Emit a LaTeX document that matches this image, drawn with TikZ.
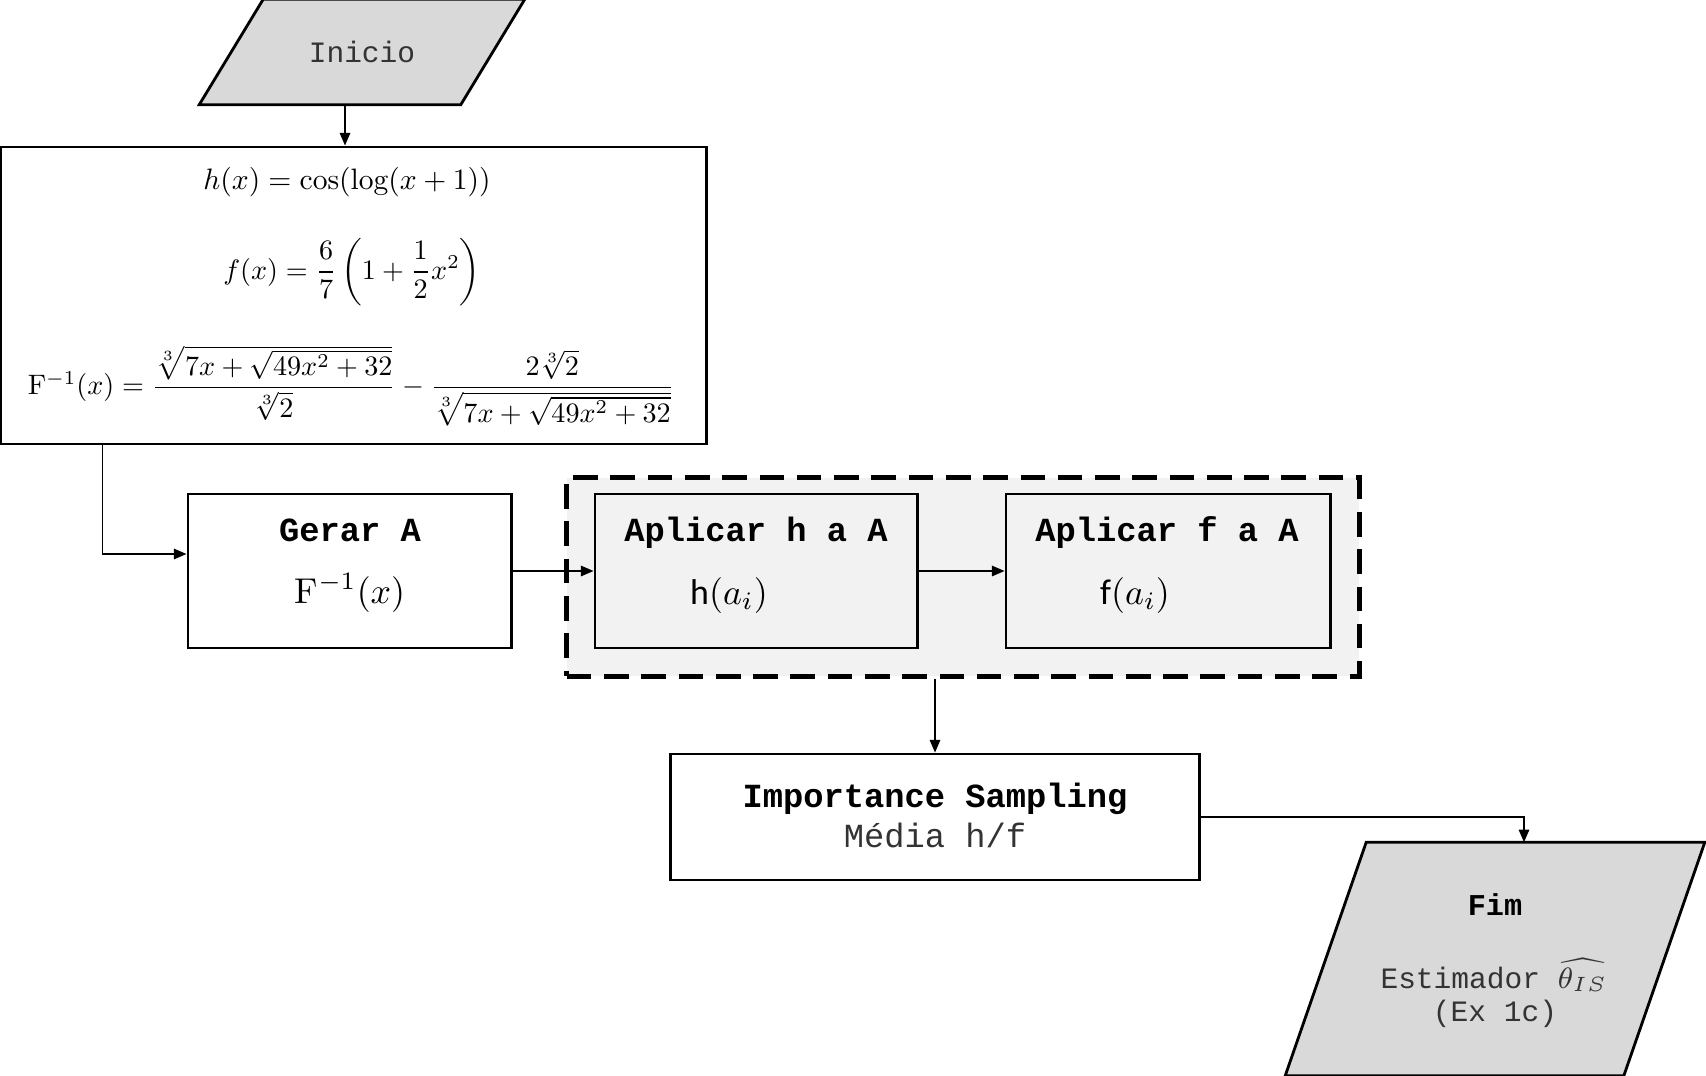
\RequirePackage{fix-cm}
\documentclass[tikz,border=0pt]{standalone}
\usepackage{amsmath}
\usepackage{graphicx}
\usepackage{fontspec}
\setmonofont{Liberation Mono}
\newfontfamily\calibri{Carlito}
\usetikzlibrary{calc,arrows.meta}
\definecolor{parafill}{HTML}{D9D9D9}
\definecolor{grpfill}{HTML}{F2F2F2}
\definecolor{txtgray}{HTML}{333333}
\tikzset{
  proc/.style={draw=black, line width=0.8pt, fill=white, inner sep=0pt},
  procg/.style={proc, fill=grpfill},
  grp/.style={draw=black, line width=1.4pt, dash pattern=on 7pt off 3.6pt, fill=grpfill, inner sep=0pt},
  io/.style={inner sep=0pt},
  para/.style={draw=black, line width=0.8pt, fill=parafill, line join=miter},
  arr/.style={-{Triangle[length=3.6pt,width=3pt]}, line width=0.4pt},
  ttl/.style={font=\fontsize{9.6}{11}\selectfont\ttfamily\bfseries, anchor=base, inner sep=0pt},
  ttls/.style={font=\fontsize{8.6}{10}\selectfont\ttfamily\bfseries, anchor=base, inner sep=0pt},
  txt/.style={font=\fontsize{9.6}{11}\selectfont\ttfamily, text=txtgray, anchor=base, inner sep=0pt},
  txts/.style={font=\fontsize{8.4}{10}\selectfont\ttfamily, text=txtgray, anchor=base, inner sep=0pt},
  mth/.style={font=\fontsize{10}{12}\selectfont, inner sep=0pt},
  mthb/.style={font=\fontsize{10.2}{12}\selectfont, anchor=base, inner sep=0pt},
}
\begin{document}
\begin{tikzpicture}[x=0.01cm,y=-0.01cm]
  \useasboundingbox (0,0) rectangle (1706,1076);

  % grupo tracejado
  \node[grp, minimum width=7.92cm, minimum height=1.98cm] (group) at (963,577) {};

  % inicio
  \node[io, minimum width=2.60cm, minimum height=1.04cm] (inicio) at (362,52) {};
  \draw[para] ($(inicio.south west)+(-32,0)$) -- ($(inicio.north west)+(32,0)$)
    -- ($(inicio.north east)+(32,0)$) -- ($(inicio.south east)+(-32,0)$) -- cycle;
  \node[txts] (inicio-t) at (362,63) {Inicio};
  \coordinate (inicio-out) at ($(inicio.south)+(-17,0)$);

  % funcoes
  \node[proc, minimum width=7.05cm, minimum height=2.97cm] (formulas) at (353.5,295.5) {};
  \node[mth, anchor=base] (fh) at (347,190) {\scalebox{0.84}{$h(x)=\cos(\log(x+1))$}};
  \node[mth] (ff) at (352,272) {\scalebox{0.80}{$f(x)=\dfrac{6}{7}\left(1+\dfrac{1}{2}x^{2}\right)$}};
  \node[mth] (fi) at (351,386) {\scalebox{0.80}{$\mathrm{F}^{-1}(x)=\dfrac{\sqrt[3]{7x+\sqrt{49x^{2}+32}}}{\sqrt[3]{2}}-\dfrac{2\sqrt[3]{2}}{\sqrt[3]{7x+\sqrt{49x^{2}+32}}}$}};

  % passos
  \node[proc, minimum width=3.23cm, minimum height=1.54cm] (gerar) at (349.5,571) {};
  \node[ttl] (gerar-t) at (350,541) {Gerar A};
  \node[mthb] (gerar-m) at (350,603) {$\mathrm{F}^{-1}(x)$};

  \node[procg, minimum width=3.22cm, minimum height=1.54cm] (aplh) at (756,571) {};
  \node[ttl] (aplh-t) at (756,541) {Aplicar h a A};
  \node[mthb] (aplh-m) at (729,604) {{\calibri h}$(a_i)$};

  \node[procg, minimum width=3.24cm, minimum height=1.54cm] (aplf) at (1168,571) {};
  \node[ttl] (aplf-t) at (1167,541) {Aplicar f a A};
  \node[mthb] (aplf-m) at (1135,604) {{\calibri f}$(a_i)$};

  \node[proc, minimum width=5.28cm, minimum height=1.26cm] (is) at (935,817) {};
  \node[ttl] (is-t) at (935,807) {Importance Sampling};
  \node[txt] (is-m) at (935,847) {Média h/f};

  % fim
  \node[io, minimum width=3.37cm, minimum height=2.32cm] (fim) at (1495,959) {};
  \draw[para] ($(fim.south west)+(-40.5,0)$) -- ($(fim.north west)+(40.5,0)$)
    -- ($(fim.north east)+(40.5,0)$) -- ($(fim.south east)+(-40.5,0)$) -- cycle;
  \node[ttls] (fim-t) at (1495,915) {Fim};
  \node[txts] (fim-m) at (1494,988) {Estimador $\widehat{\theta_{IS}}$};
  \node[txts] (fim-e) at (1495,1021) {(Ex 1c)};

  % ligacoes
  \draw[arr] (inicio-out) -- (inicio-out |- formulas.north);
  \draw[arr] ($(formulas.south west)+(103,0)$) |- ($(gerar.west)+(0,-17)$);
  \draw[arr] (gerar.east) -- (aplh.west);
  \draw[arr] (aplh.east) -- (aplf.west);
  \draw[arr] (is.north |- group.south) -- (is.north);
  \draw[arr] (is.east) -| ($(fim.north)+(29,0)$);
\end{tikzpicture}
\end{document}
